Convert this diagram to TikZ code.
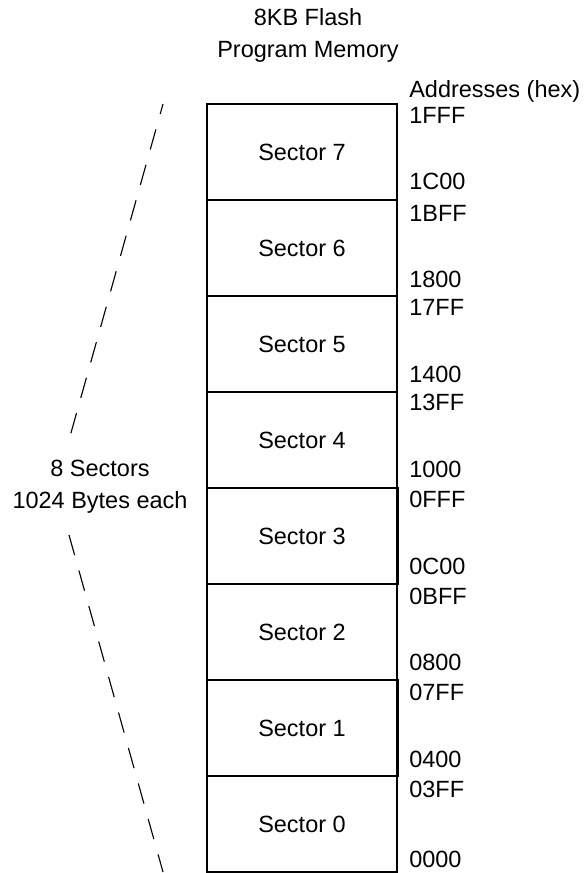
\documentclass[tikz,border=0pt]{standalone}
\usepackage{fontspec}
\setmainfont{Liberation Sans}
\usepackage{tikz}
\tikzset{
    sector/.style={draw, line width=1.4pt, minimum width=4.75cm, minimum height=2.4cm, inner sep=0pt},
    heavy/.style={line width=2.1pt},
    addr/.style={anchor=west, inner sep=0pt},
    label text/.style={align=center, inner sep=0pt},
    bracket/.style={dash pattern=on 14.9pt off 11.3pt, line width=0.8pt},
}

\begin{document}
\begin{tikzpicture}[x=0.025cm, y=-0.025cm, font=\fontsize{16.7}{22.7}\selectfont]
    \useasboundingbox (0, 0) rectangle (585, 873);

    \node[label text] (title) at (308, 35) {8KB Flash\\Program Memory};
    \node[anchor=base west, inner sep=0pt] (addrhead) at (409, 98) {Addresses (hex)};

    \node[sector] (s7) at (302, 152) {Sector 7};
    \node[sector] (s6) at (302, 248) {Sector 6};
    \node[sector] (s5) at (302, 344) {Sector 5};
    \node[sector] (s4) at (302, 440) {Sector 4};
    \node[sector] (s2) at (302, 632) {Sector 2};
    \node[sector] (s0) at (302, 824) {Sector 0};
    \node[sector, heavy] (s3) at (302, 536) {Sector 3};
    \node[sector, heavy] (s1) at (302, 728) {Sector 1};

    \node[addr] (a7h) at (409, 115) {1FFF};
    \node[addr] (a7l) at (409, 181) {1C00};
    \node[addr] (a6h) at (409, 213) {1BFF};
    \node[addr] (a6l) at (409, 279) {1800};
    \node[addr] (a5h) at (409, 307) {17FF};
    \node[addr] (a5l) at (409, 374) {1400};
    \node[addr] (a4h) at (409, 402) {13FF};
    \node[addr] (a4l) at (409, 469) {1000};
    \node[addr] (a3h) at (409, 499) {0FFF};
    \node[addr] (a3l) at (409, 566) {0C00};
    \node[addr] (a2h) at (409, 596) {0BFF};
    \node[addr] (a2l) at (409, 662) {0800};
    \node[addr] (a1h) at (409, 692) {07FF};
    \node[addr] (a1l) at (409, 759) {0400};
    \node[addr] (a0h) at (409, 789) {03FF};
    \node[addr] (a0l) at (409, 859) {0000};

    % bracket on the left
    \node[label text] (count) at (100, 487) {8 Sectors\\1024 Bytes each};
    \coordinate (btop) at (163, 104);
    \coordinate (bup) at (69, 440);
    \coordinate (blow) at (69, 535);
    \coordinate (bbot) at (163, 872);
    \draw[bracket, dash phase=7.5pt] (btop) -- (bup);
    \draw[bracket] (blow) -- (bbot);
\end{tikzpicture}
\end{document}
